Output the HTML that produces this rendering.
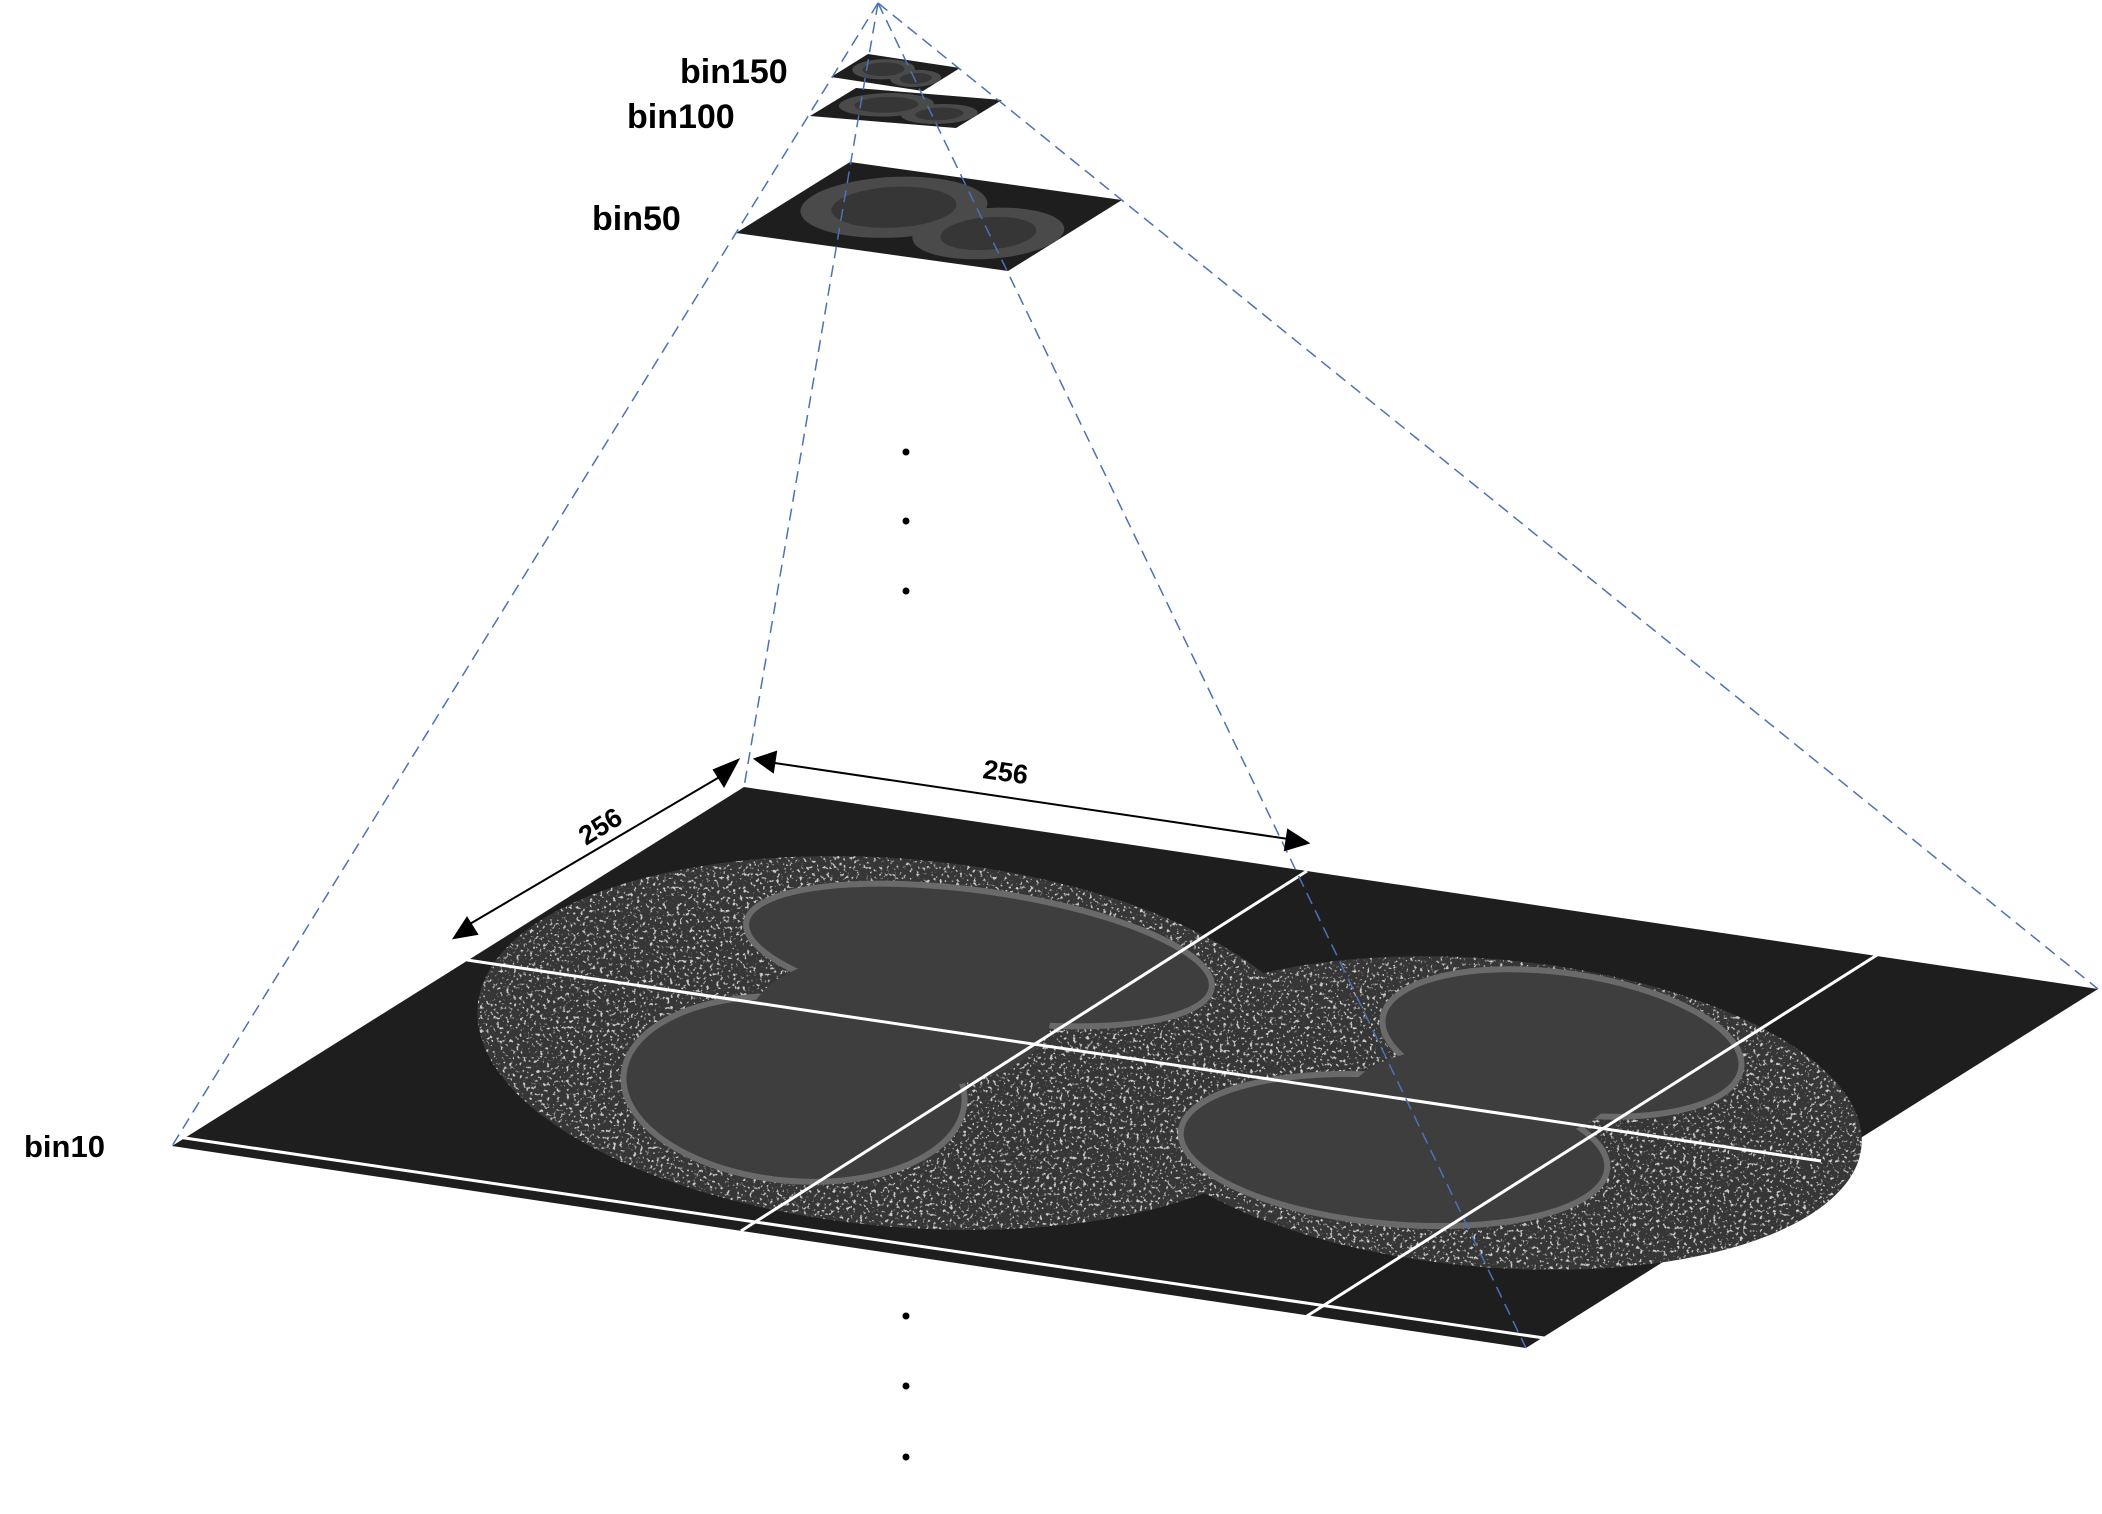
<!DOCTYPE html>
<html><head><meta charset="utf-8"><style>
html,body{margin:0;padding:0;background:#fff;}
svg{display:block;}
text{font-family:"Liberation Sans",sans-serif;font-weight:bold;fill:#000;}
</style></head><body>
<svg width="2102" height="1514" viewBox="0 0 2102 1514" xmlns="http://www.w3.org/2000/svg">
<defs>
<filter id="spk" x="0" y="0" width="1" height="1">
<feTurbulence type="fractalNoise" baseFrequency="0.3" numOctaves="2" seed="3" result="n"/>
<feColorMatrix in="n" type="matrix" values="0 0 0 0 1  0 0 0 0 1  0 0 0 0 1  0 0 0 7 -4.1" result="m"/>
<feComposite in="m" in2="SourceGraphic" operator="in"/>
</filter>
<clipPath id="blobs">
<ellipse cx="901" cy="1043" rx="425" ry="184" transform="rotate(5 901 1043)"/>
<ellipse cx="1488" cy="1113" rx="375" ry="154" transform="rotate(5 1488 1113)"/>
</clipPath>
<g id="stissue">
<ellipse cx="0.35" cy="0.45" rx="0.3" ry="0.4" fill="#4a4a4a"/>
<ellipse cx="0.76" cy="0.6" rx="0.24" ry="0.34" fill="#4a4a4a"/>
<ellipse cx="0.35" cy="0.45" rx="0.2" ry="0.27" fill="#363636"/>
<ellipse cx="0.76" cy="0.6" rx="0.15" ry="0.22" fill="#363636"/>
</g>
</defs>

<!-- main plane -->
<polygon points="744,787 2098,989 1526,1348 172,1146" fill="#1e1e1e"/>
<!-- tissue -->
<g>
<ellipse cx="901" cy="1043" rx="425" ry="184" transform="rotate(5 901 1043)" fill="#363636"/>
<ellipse cx="1488" cy="1113" rx="375" ry="154" transform="rotate(5 1488 1113)" fill="#363636"/>
</g>
<g clip-path="url(#blobs)" opacity="0.75">
<rect x="440" y="820" width="1440" height="480" fill="#fff" filter="url(#spk)"/>
</g>
<g stroke="#6a6a6a" stroke-width="6" fill="#3e3e3e">
<ellipse cx="979" cy="955" rx="235" ry="64" transform="rotate(8 979 955)"/>
<ellipse cx="794" cy="1089" rx="171" ry="92" transform="rotate(5 794 1089)"/>
<ellipse cx="1562" cy="1043" rx="181" ry="70" transform="rotate(8 1562 1043)"/>
<ellipse cx="1394" cy="1150" rx="214" ry="74" transform="rotate(5 1394 1150)"/>
</g>
<g fill="#3e3e3e">
<ellipse cx="900" cy="1020" rx="150" ry="70"/>
<ellipse cx="1480" cy="1095" rx="130" ry="50"/>
</g>

<!-- white grid lines -->
<g stroke="#fff" stroke-width="3">
<line x1="1307" y1="871" x2="741" y2="1231"/>
<line x1="1877" y1="955" x2="1307" y2="1316"/>
<line x1="467" y1="960" x2="1821" y2="1161"/>
<line x1="178" y1="1137" x2="1544" y2="1338"/>
</g>

<!-- small planes -->
<g transform="matrix(272,38,-114,71,850,162)">
<rect width="1" height="1" fill="#1e1e1e"/><use href="#stissue"/>
</g>
<g transform="matrix(146,12,-46,28,856,88)">
<rect width="1" height="1" fill="#1e1e1e"/><use href="#stissue"/>
</g>
<g transform="matrix(92,14,-37,23,868,54)">
<rect width="1" height="1" fill="#1e1e1e"/><use href="#stissue"/>
</g>

<!-- dashed pyramid lines -->
<g stroke="#4a72b8" stroke-width="1.5" stroke-dasharray="12,7" fill="none">
<line x1="878" y1="3" x2="172" y2="1146"/>
<line x1="878" y1="3" x2="2098" y2="989"/>
<line x1="878" y1="3" x2="744" y2="787"/>
<line x1="878" y1="3" x2="1526" y2="1348"/>
</g>

<!-- arrows -->
<g stroke="#000" stroke-width="2" fill="#000">
<line x1="728" y1="772" x2="463" y2="928"/>
<polygon points="738,760 714,770 724,786"/>
<polygon points="454,938 467,918 477,934"/>
<line x1="768" y1="762" x2="1295" y2="840"/>
<polygon points="755,759 776,752 773,772"/>
<polygon points="1308,843 1288,830 1285,850"/>
</g>
<text x="0" y="0" font-size="27" transform="translate(586,846) rotate(-32)">256</text>
<text x="0" y="0" font-size="27" transform="translate(982,778) rotate(8)">256</text>

<!-- labels -->
<text x="680" y="83" font-size="34">bin150</text>
<text x="627" y="128" font-size="34">bin100</text>
<text x="592" y="230" font-size="34">bin50</text>
<text x="24" y="1157" font-size="31">bin10</text>

<!-- dots -->
<g fill="#000">
<circle cx="906" cy="452" r="3.5"/>
<circle cx="906" cy="521" r="3.5"/>
<circle cx="906" cy="591" r="3.5"/>
<circle cx="906" cy="1316" r="3.5"/>
<circle cx="906" cy="1386" r="3.5"/>
<circle cx="906" cy="1457" r="3.5"/>
</g>
</svg>
</body></html>
